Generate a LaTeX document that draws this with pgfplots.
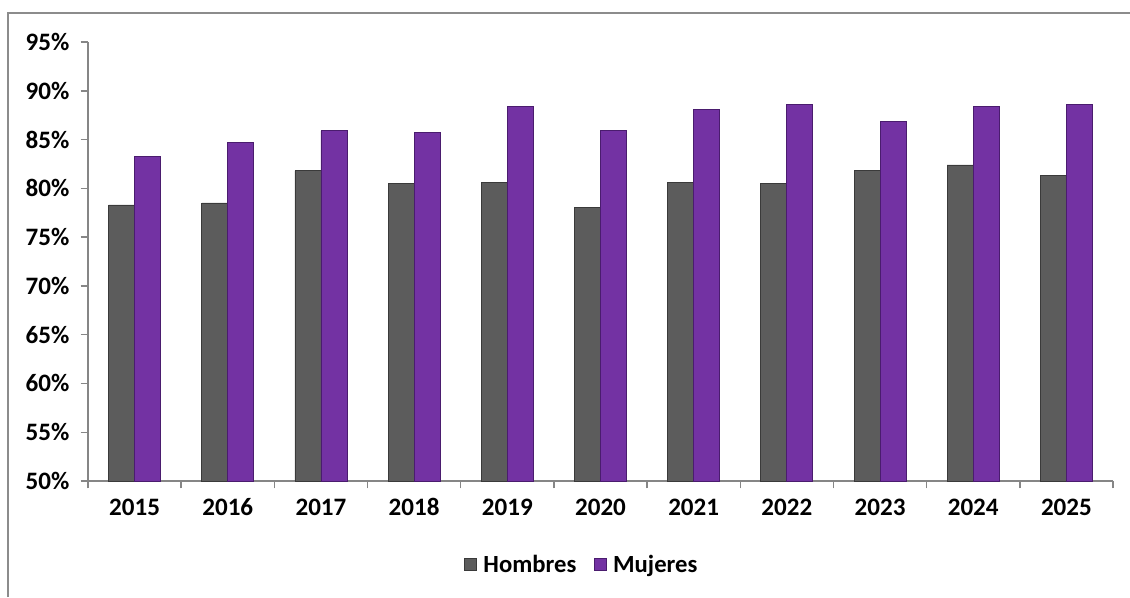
\documentclass[border=0pt]{standalone}
\usepackage{pgfplots}
\pgfplotsset{compat=1.18}
\usepackage{fontspec}
\setmainfont{Carlito}
\definecolor{hom}{HTML}{5C5C5C}
\definecolor{homd}{HTML}{3A3A3A}
\definecolor{muj}{HTML}{7332A3}
\definecolor{mujd}{HTML}{4A1C6E}
\definecolor{axg}{HTML}{868686}
\definecolor{frameg}{HTML}{8C8C8C}
\pgfplotstableread{
x H M
0 78.3 83.3
1 78.5 84.7
2 81.8 85.9
3 80.5 85.7
4 80.6 88.4
5 78.0 85.9
6 80.6 88.1
7 80.5 88.6
8 81.8 86.9
9 82.4 88.4
10 81.3 88.6
}\datatab
\begin{document}
\begin{tikzpicture}[x=0.75pt,y=0.75pt]
\path[use as bounding box] (0,0) rectangle (1130,-597);
\draw[color=frameg, line width=1.2pt] (8,-597) -- (8,-13) -- (1130,-13);
\begin{axis}[
  at={(66pt,-360.75pt)}, anchor=south west,
  scale only axis, width=768.75pt, height=329.25pt,
  xmin=-0.5, xmax=10.5, ymin=50, ymax=95,
  axis x line*=bottom, axis y line*=left,
  axis line style={color=axg, line width=1.1pt},
  every tick/.style={color=axg, line width=1.1pt},
  tick align=outside,
  major tick length=5.5pt, minor tick length=5.5pt,
  ytick={50,55,...,95},
  yticklabels={50\%,55\%,60\%,65\%,70\%,75\%,80\%,85\%,90\%,95\%},
  xtick={0,...,10},
  xticklabels={2015,2016,2017,2018,2019,2020,2021,2022,2023,2024,2025},
  major x tick style={draw=none},
  minor xtick={-0.5,0.5,...,10.5},
  /pgf/number format/assume math mode=true,
  tick label style={font=\fontsize{18.8pt}{22pt}\selectfont\bfseries, text=black},
  yticklabel style={xshift=-5pt},
  xticklabel style={yshift=-5pt, text height=12pt, text depth=0pt},
  ybar=0pt, bar width=19.5pt,
  legend style={draw=none, at={(0.482,-0.191)}, anchor=center,
    font=\fontsize{18.5pt}{22pt}\selectfont\bfseries,
    legend columns=2,
    /tikz/every odd column/.append style={column sep=3pt},
    /tikz/every even column/.append style={column sep=11pt}},
  legend image code/.code={\draw[#1] (0pt,-4.5pt) rectangle (9pt,4.5pt);},
]
\addplot[fill=hom, draw=homd, line width=0.6pt] table[x=x,y=H]{\datatab};
\addplot[fill=muj, draw=mujd, line width=0.6pt] table[x=x,y=M]{\datatab};
\legend{Hombres, Mujeres}
\end{axis}
\end{tikzpicture}
\end{document}
